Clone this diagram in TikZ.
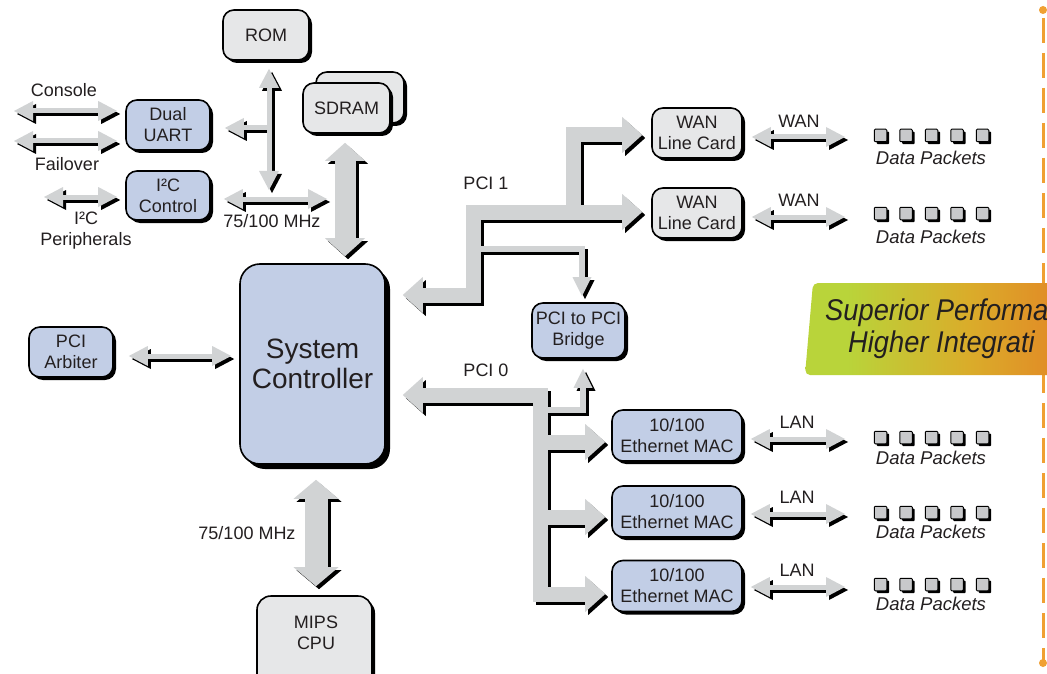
\documentclass[tikz,border=0pt]{standalone}
\usepackage{fontspec}
\setmainfont{Liberation Sans}
\newfontfamily\bnfam[FakeStretch=0.91]{Liberation Sans}
\usetikzlibrary{arrows.meta,shadows}
\definecolor{boxblue}{RGB}{194,206,230}
\definecolor{boxgray}{RGB}{230,231,232}
\definecolor{busgray}{RGB}{209,211,212}
\definecolor{pktgray}{RGB}{200,201,203}
\definecolor{ink}{RGB}{35,31,32}
\definecolor{bgreen}{RGB}{185,212,58}
\definecolor{bgold}{RGB}{218,172,42}
\definecolor{borange}{RGB}{230,120,36}
\definecolor{dashor}{RGB}{240,160,50}
\pgfdeclarehorizontalshading{bannershade}{100bp}{color(0bp)=(bgreen); color(33bp)=(bgreen); color(56bp)=(bgold); color(82bp)=(borange); color(100bp)=(borange)}
\newcommand\bxfont{\fontsize{18}{21}\selectfont}
\newcommand\scfont{\fontsize{28}{30}\selectfont}
\newcommand\bnfont{\bnfam\itshape\fontsize{30}{32}\selectfont}
\newcommand\dpfont{\itshape\fontsize{18.5}{20}\selectfont}
\tikzset{
  tipT/.tip={Triangle[width=20pt,length=19pt,line width=0pt]},
  tipS/.tip={Triangle[width=19pt,length=19pt,line width=0pt]},
  tipM/.tip={Triangle[width=40pt,length=18pt,line width=0pt]},
  tipC/.tip={Triangle[width=45pt,length=19pt,line width=0pt]},
  tipB/.tip={Triangle[width=36pt,length=20pt,line width=0pt]},
  thinC/.style={line width=5pt},
  thinB/.style={line width=6.5pt},
  memC/.style={line width=21pt},
  cpuC/.style={line width=23pt},
  busC/.style={line width=15pt},
  box/.style={draw=black, line width=1.6pt, rounded corners=11pt, align=center,
    inner sep=0pt, font=\bxfont, text=ink,
    drop shadow={shadow xshift=3pt, shadow yshift=-3pt, opacity=1, fill=black}},
  bluebox/.style={box, fill=boxblue},
  graybox/.style={box, fill=boxgray},
  lbl/.style={font=\bxfont, text=ink, align=center, inner sep=0pt},
  dplbl/.style={font=\dpfont, text=ink, inner sep=0pt},
  pkt/.style={draw=black, line width=1pt, fill=pktgray, minimum size=12.5pt,
    inner sep=0pt, rounded corners=1pt,
    drop shadow={shadow xshift=2.4pt, shadow yshift=-2.4pt, opacity=1, fill=black}},
}
\newcommand\connectors{%
  \draw[thinC,tipT-tipT,shorten >=8pt] (conL) -- (conL -| uart.west);
  \draw[thinC,tipT-tipT,shorten >=8pt] (failL) -- (failL -| uart.west);
  \draw[thinC,tipT-tipT,shorten >=8pt] (i2pL) -- (i2pL -| i2c.west);
  \draw[thinC,tipT-tipT,shorten <=8pt] (rom.south -| romB) -- (romB);
  \draw[thinC,-tipT,shorten >=14pt] (uartJ) -- (uartJ -| uart.east);
  \draw[thinC,tipT-tipT,shorten <=13pt] (mhzR -| i2c.east) -- (mhzR);
  \draw[thinC,tipT-tipT,shorten <=15pt,shorten >=8pt] (arb.east |- arbY) -- (sc.west |- arbY);
  \draw[memC,tipM-tipM,shorten <=9pt,shorten >=7pt] (sdram.south -| memX) -- (sc.north -| memX);
  \draw[cpuC,tipC-tipC,shorten <=15pt,shorten >=9pt] (sc.south -| cpuX) -- (cpu.north -| cpuX);
  \draw[thinC,tipT-tipT,shorten <=9pt] (wan1.east |- w1R) -- (w1R);
  \draw[thinC,tipT-tipT,shorten <=9pt] (wan2.east |- w2R) -- (w2R);
  \draw[thinC,tipT-tipT,shorten <=8pt] (eth1.east |- l1R) -- (l1R);
  \draw[thinC,tipT-tipT,shorten <=8pt] (eth2.east |- l2R) -- (l2R);
  \draw[thinC,tipT-tipT,shorten <=8pt] (eth3.east |- l3R) -- (l3R);
  \draw[busC,tipB-tipB,shorten <=17pt,shorten >=9pt] (sc.east |- p1a) -- (p1a) -- (p1b) -- (p1b -| wan2.west);
  \draw[busC,-tipB,shorten >=9pt] (p1c) -- (p1d) -- (p1d -| wan1.west);
  \draw[thinB,-tipS,shorten >=6pt] (p1e) -- (p1f) -- (p1f |- bridge.north);
  \draw[busC,tipB-tipB,shorten <=17pt,shorten >=6pt] (sc.east |- p0a) -- (p0a) -- (p0b) -- (p0b -| eth3.west);
  \draw[busC,-tipB,shorten >=6pt] (p0c) -- (p0c -| eth1.west);
  \draw[busC,-tipB,shorten >=6pt] (p0d) -- (p0d -| eth2.west);
  \draw[thinB,-tipS,shorten >=10pt] (p0e) -- (p0f) -- (p0f |- bridge.south);
}
\begin{document}
\begin{tikzpicture}[x=1pt,y=-1pt]
\useasboundingbox (0,0) rectangle (1047,674);
\clip (0,0) rectangle (1047,674);
\fill[white] (0,0) rectangle (1047,674);

% boxes
\node[graybox,minimum width=86pt,minimum height=50pt] (rom) at (266,35) {ROM};
\node[graybox,minimum width=88pt,minimum height=51pt] (sdramb) at (360,97.5) {};
\node[graybox,minimum width=87pt,minimum height=50pt] (sdram) at (346.5,108) {SDRAM};
\node[bluebox,minimum width=84pt,minimum height=50pt] (uart) at (168,125) {Dual\\UART};
\node[bluebox,minimum width=84pt,minimum height=49pt] (i2c) at (168,195.5) {I²C\\Control};
\node[bluebox,minimum width=84pt,minimum height=50pt] (arb) at (71,352) {PCI\\Arbiter};
\node[bluebox,minimum width=145pt,minimum height=200pt,rounded corners=20pt,font=\scfont,
  drop shadow={shadow xshift=5pt, shadow yshift=-5pt, opacity=1, fill=black}] (sc) at (312.5,364) {System\\Controller};
\node[graybox,minimum width=115pt,minimum height=100pt,rounded corners=14pt] (cpu) at (314.5,646) {};
\node[lbl] (cputxt) at (316,633) {MIPS\\CPU};
\node[graybox,minimum width=90pt,minimum height=50pt] (wan1) at (697,133) {WAN\\Line Card};
\node[graybox,minimum width=90pt,minimum height=50pt] (wan2) at (697,213) {WAN\\Line Card};
\node[bluebox,minimum width=93pt,minimum height=55pt] (bridge) at (578.5,330.5) {PCI to PCI\\Bridge};
\node[bluebox,minimum width=130pt,minimum height=51pt] (eth1) at (677,435.5) {10/100\\Ethernet MAC};
\node[bluebox,minimum width=130pt,minimum height=51pt] (eth2) at (677,511.5) {10/100\\Ethernet MAC};
\node[bluebox,minimum width=130pt,minimum height=51pt] (eth3) at (677,586) {10/100\\Ethernet MAC};

% connector points
\coordinate (conL) at (14,111);
\coordinate (failL) at (14,141);
\coordinate (i2pL) at (44,197);
\coordinate (romB) at (269,190);
\coordinate (uartJ) at (269,128);
\coordinate (mhzR) at (327,199);
\coordinate (arbY) at (0,356);
\coordinate (memX) at (345,0);
\coordinate (cpuX) at (316,0);
\coordinate (w1R) at (845,137);
\coordinate (w2R) at (845,217);
\coordinate (l1R) at (845,439);
\coordinate (l2R) at (845,514);
\coordinate (l3R) at (845,587);
\coordinate (p1a) at (473,295);
\coordinate (p1b) at (473,212);
\coordinate (p1c) at (573,212);
\coordinate (p1d) at (573,135);
\coordinate (p1e) at (473,249);
\coordinate (p1f) at (582,249);
\coordinate (p0a) at (540,395);
\coordinate (p0b) at (540,594);
\coordinate (p0c) at (540,442);
\coordinate (p0d) at (540,517);
\coordinate (p0e) at (540,410);
\coordinate (p0f) at (583,410);

% connectors: shadow pass, then grey pass
\begin{scope}[color=black,transform canvas={xshift=3pt,yshift=-3pt}]
\connectors
\end{scope}
\begin{scope}[color=busgray]
\connectors
\end{scope}

% labels
\node[lbl] (lcon) at (64,90) {Console};
\node[lbl] (lfail) at (67,164) {Failover};
\node[lbl] (li2p) at (86,231) {I²C\\Peripherals};
\node[lbl] (lmhz1) at (272,221) {75/100 MHz};
\node[lbl] (lmhz2) at (247,533) {75/100 MHz};
\node[lbl] (lpci1) at (486,183) {PCI 1};
\node[lbl] (lpci0) at (486,370) {PCI 0};
\node[lbl] (lwan1) at (799,121) {WAN};
\node[lbl] (lwan2) at (799,200) {WAN};
\node[lbl] (llan1) at (797,422) {LAN};
\node[lbl] (llan2) at (797,497) {LAN};
\node[lbl] (llan3) at (797,570) {LAN};

% data packets
\foreach \r/\yy/\ly in {1/135.5/158, 2/213.5/237, 3/437.5/458, 4/512.5/532, 5/584.5/604}{
  \foreach \k in {0,...,4}{
    \node[pkt] (pk\r\k) at ({880.5+25.5*\k},\yy) {};
  }
  \node[dplbl] (dp\r) at (931,\ly) {Data Packets};
}

% dashed side rule
\coordinate (dtop) at (1043,10);
\coordinate (dbot) at (1043,663);
\draw[dashor,line width=3pt,dash pattern=on 25pt off 10pt,dash phase=27pt] (dtop) -- (dbot);
\fill[dashor] (dtop) circle (4pt);
\fill[dashor] (dbot) circle (4pt);

% banner
\path[shading=bannershade,rounded corners=5pt] (813,283) -- (1070,283) -- (1070,375) -- (805,375) -- cycle;
\node[anchor=base west,font=\bnfont,text=ink,inner sep=0pt] (ban1) at (825,320) {Superior Performa};
\node[anchor=base west,font=\bnfont,text=ink,inner sep=0pt] (ban2) at (848,352) {Higher Integrati};
\end{tikzpicture}
\end{document}
